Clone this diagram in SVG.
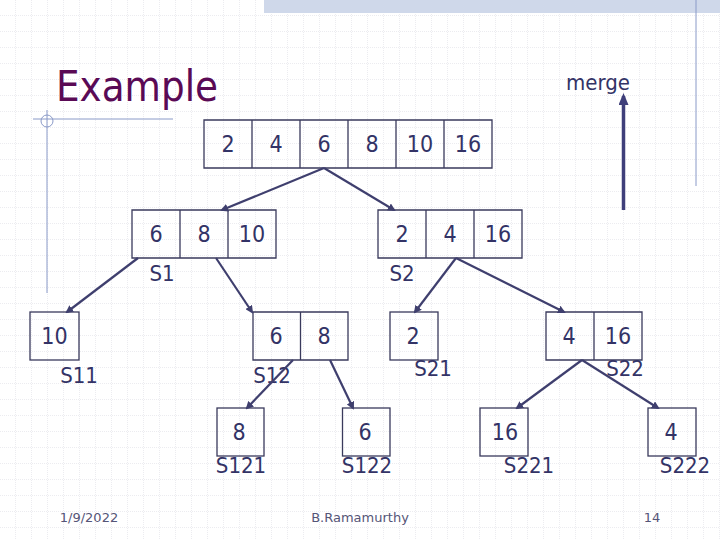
<svg xmlns="http://www.w3.org/2000/svg" width="720" height="540" viewBox="0 0 720 540">
<style>
.c{fill:none;stroke:#3a3a5c;stroke-width:1.3}
.t{font-family:"DejaVu Sans Condensed","DejaVu Sans",sans-serif;font-size:23px;fill:#333366;text-anchor:middle}
.l{font-family:"DejaVu Sans Condensed","DejaVu Sans",sans-serif;font-size:22px;fill:#333366;text-anchor:middle}
.a{stroke:#3f3f6e;stroke-width:2.2;fill:none;marker-end:url(#ah)}
.f{font-family:"DejaVu Sans",sans-serif;font-size:13px;fill:#555577;text-anchor:middle}
</style>
<defs>
<marker id="ah" markerWidth="8" markerHeight="8" refX="6" refY="4" orient="auto" markerUnits="userSpaceOnUse"><path d="M0,0 L8,4 L0,8 z" fill="#3f3f6e"/></marker>
<marker id="mh" markerWidth="12" markerHeight="10" refX="9" refY="5" orient="auto" markerUnits="userSpaceOnUse"><path d="M0,0 L12,5 L0,10 z" fill="#3f3f7a"/></marker>
<pattern id="g" width="16" height="16" patternUnits="userSpaceOnUse"><path d="M16,0 V16 M0,16 H16" stroke="#d8d8e0" stroke-width="1" stroke-dasharray="1,1" fill="none"/></pattern>
</defs>
<rect width="720" height="540" fill="#fff"/>
<rect width="720" height="540" fill="url(#g)"/>
<rect x="264" y="0" width="456" height="13" fill="#cfd8ea"/>
<line x1="696" y1="0" x2="696" y2="186" stroke="#8a9ac8" stroke-width="1"/>
<line x1="33" y1="119" x2="173" y2="119" stroke="#8a9ac8" stroke-width="1"/>
<line x1="47" y1="110" x2="47" y2="293" stroke="#8a9ac8" stroke-width="1"/>
<circle cx="47" cy="121" r="6" fill="none" stroke="#8a9ac8" stroke-width="1"/>
<text x="56" y="101" font-family="DejaVu Sans Condensed, DejaVu Sans, sans-serif" font-size="42" fill="#5a0a55" textLength="162" lengthAdjust="spacingAndGlyphs">Example</text>
<text x="598" y="90" class="l">merge</text>
<line x1="623.5" y1="210" x2="623.5" y2="96" stroke="#3f3f7a" stroke-width="3.5" marker-end="url(#mh)"/>
<g id="root"><path class="c" d="M204,120H492V168H204Z M252,120V168 M300,120V168 M348,120V168 M396,120V168 M444,120V168"/>
<text class="t" y="152"><tspan x="228">2</tspan><tspan x="276">4</tspan><tspan x="324">6</tspan><tspan x="372">8</tspan><tspan x="420">10</tspan><tspan x="468">16</tspan></text></g>
<g id="s1"><path class="c" d="M132,210H276V258H132Z M180,210V258 M228,210V258"/>
<text class="t" y="242"><tspan x="156">6</tspan><tspan x="204">8</tspan><tspan x="252">10</tspan></text><text class="l" x="162" y="281">S1</text></g>
<g id="s2"><path class="c" d="M378,210H522V258H378Z M426,210V258 M474,210V258"/>
<text class="t" y="242"><tspan x="402">2</tspan><tspan x="450">4</tspan><tspan x="498">16</tspan></text><text class="l" x="402" y="281">S2</text></g>
<g id="s11"><rect class="c" x="30" y="312" width="49" height="48"/><text class="t" x="54.5" y="344">10</text><text class="l" x="79" y="383">S11</text></g>
<g id="s12"><path class="c" d="M253,312H348V360H253Z M300.5,312V360"/><text class="t" y="344"><tspan x="276">6</tspan><tspan x="324">8</tspan></text><text class="l" x="272" y="383">S12</text></g>
<g id="s21"><rect class="c" x="390" y="312" width="48" height="48"/><text class="t" x="413" y="344">2</text><text class="l" x="433" y="376">S21</text></g>
<g id="s22"><path class="c" d="M546,312H642V360H546Z M594,312V360"/><text class="t" y="344"><tspan x="569">4</tspan><tspan x="618">16</tspan></text><text class="l" x="625" y="376">S22</text></g>
<g id="s121"><rect class="c" x="217" y="408" width="47" height="48"/><text class="t" x="239" y="440">8</text><text class="l" x="241" y="473">S121</text></g>
<g id="s122"><rect class="c" x="342.5" y="408" width="47.5" height="48"/><text class="t" x="365" y="440">6</text><text class="l" x="367" y="473">S122</text></g>
<g id="s221"><rect class="c" x="480" y="408" width="48" height="48"/><text class="t" x="505" y="440">16</text><text class="l" x="529" y="473">S221</text></g>
<g id="s222"><rect class="c" x="648" y="408" width="48" height="48"/><text class="t" x="671" y="440">4</text><text class="l" x="685" y="473">S222</text></g>
<g id="connectors">
<line class="a" x1="324" y1="168" x2="222" y2="210"/>
<line class="a" x1="324" y1="168" x2="394" y2="210"/>
<line class="a" x1="138" y1="258" x2="67" y2="312"/>
<line class="a" x1="216" y1="258" x2="252" y2="312"/>
<line class="a" x1="456" y1="258" x2="415" y2="312"/>
<line class="a" x1="456" y1="258" x2="564" y2="312"/>
<line class="a" x1="293" y1="360" x2="247" y2="408"/>
<line class="a" x1="330" y1="360" x2="353" y2="408"/>
<line class="a" x1="582" y1="360" x2="517" y2="408"/>
<line class="a" x1="582" y1="360" x2="658" y2="408"/>
</g>
<text class="f" x="89" y="522">1/9/2022</text>
<text class="f" x="360" y="522">B.Ramamurthy</text>
<text class="f" x="652" y="522">14</text>
</svg>
